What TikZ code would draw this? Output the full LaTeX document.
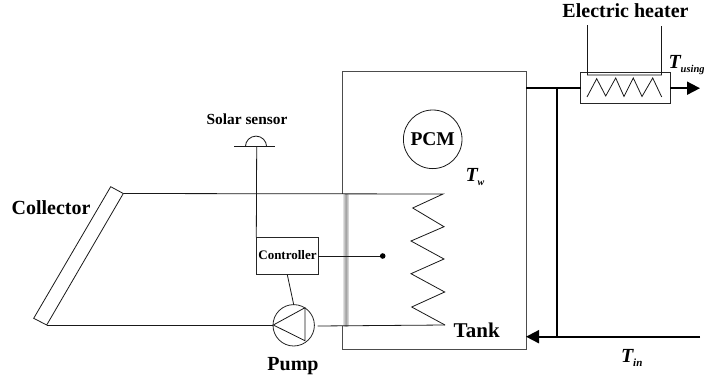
\documentclass[tikz,border=0pt]{standalone}
\usepackage{fontspec}
\setmainfont{Liberation Serif}
\usetikzlibrary{arrows.meta}
\tikzset{
  thin line/.style={draw=black!90,line width=0.8pt,line join=miter},
  thick pipe/.style={draw=black,line width=1.8pt},
  flow/.style={thick pipe,-{Triangle[length=13pt,width=13pt]}},
  box/.style={draw=black!85,line width=0.8pt,fill=white,inner sep=0pt,outer sep=0pt},
  lab/.style={inner sep=0pt,outer sep=0pt},
  big/.style={lab,font=\fontsize{20}{22}\selectfont\bfseries},
  sym/.style={lab,font=\fontsize{20}{22}\selectfont\bfseries\itshape},
}
\begin{document}
\begin{tikzpicture}[x=1pt,y=-1pt]
\useasboundingbox (0,0) rectangle (704,383);
% tank
\node[box,draw=black!70,fill=none,line width=0.9pt,minimum width=184pt,minimum height=278pt] (tank) at (434,210) {};
\fill[white] (340.5,194) rectangle (349,326);
\shade[left color=black!12,right color=black!12,middle color=black!38] (343,194) rectangle (348.5,326);
% collector
\coordinate (ca) at (110.7,186.7);
\coordinate (cb) at (123.3,193.5);
\coordinate (cc) at (46.7,325);
\coordinate (cd) at (33.7,318.3);
\draw[thin line] (ca) -- (cb) -- (cc) -- (cd) -- cycle;
% coil
\coordinate (c0) at (443,194);
\coordinate (c8) at (445,325);
\draw[thin line] (cb) -- (c0) -- (412.7,208) -- (444,226.7) -- (411,241) -- (444,259) -- (411,273.7) -- (444.7,292) -- (411.7,307) -- (c8);
% pump
\node[circle,box,minimum size=41.4pt] (pump) at (293.7,325.3) {};
\coordinate (pl) at (273.3,325);
\draw[thin line] (pl) -- (305,307.7) -- (305,340.7) -- cycle;
\draw[thin line] (cc) -- (pl);
\coordinate (pr) at (317.5,326);
\draw[thin line] (pr) -- (c8);
% controller
\node[box,minimum width=62pt,minimum height=37.4pt] (ctrl) at (287.3,256) {};
\node[lab,font=\fontsize{13}{14}\selectfont\bfseries] (ctrltext) at (287.5,254.7) {Controller};
\coordinate (dot) at (382.7,256);
\draw[thin line] (ctrl.east) -- (dot);
\fill (dot) circle (2.8pt);
\draw[thin line] (ctrl.south) -- (pump.north);
% sensor
\coordinate (s0) at (256.7,146.7);
\draw[thin line] (234.3,146.7) -- (274.7,146.7);
\draw[thin line] (245.4,146.7) arc[start angle=180,end angle=0,radius=10.6pt];
\draw[thin line] (s0) -- (ctrl.north west);
% PCM
\node[circle,draw=black!90,line width=0.8pt,minimum size=58.6pt,lab,font=\fontsize{19.5}{21}\selectfont\bfseries] (pcm) at (432.7,139.3) {PCM};
% heater
\node[box,minimum width=89.6pt,minimum height=31pt] (heater) at (625.5,88.2) {};
\coordinate (w1) at (587,25);
\coordinate (w2) at (661.7,26);
\coordinate (w1b) at (587,75);
\coordinate (w2b) at (661.7,75);
\draw[line width=2pt,draw=black!35] (w1b) -- (w2b);
\draw[thin line] (w1) -- (w1b);
\draw[thin line] (w2) -- (w2b);
\draw[thin line] (587,97) -- (596.7,78.7) -- (605.7,96) -- (615.7,78) -- (624,96.5) -- (633.3,78) -- (642,96.5) -- (652.7,78) -- (661.7,97);
% pipes
\coordinate (tout) at (tank.east |- heater.west);
\coordinate (tin) at (700,336.7);
\coordinate (tinhead) at (tank.east |- tin);
\coordinate (junc) at (556.7,88.2);
\coordinate (junc2) at (556.7,336.7);
\coordinate (hout) at (700,88.2);
\draw[thick pipe] (tout) -- (heater.west);
\draw[thick pipe] (junc) -- (junc2);
\draw[flow] (tin) -- (tinhead);
\draw[flow] (heater.east) -- (hout);
% labels
\node[big] (lcoll) at (51,207.7) {Collector};
\node[big] (lpump) at (293,366) {Pump};
\node[lab,font=\fontsize{15.4}{17}\selectfont\bfseries] (lsens) at (247,119) {Solar sensor};
\node[big,font=\fontsize{21}{23}\selectfont\bfseries] (ltank) at (476.7,330.7) {Tank};
\node[big] (lheat) at (625.5,10.5) {Electric heater};
\node[sym,anchor=west] (ltw) at (465.5,177) {T\raisebox{-4pt}{\fontsize{10}{11}\selectfont w}};
\node[sym,anchor=west] (ltin) at (621,358) {T\raisebox{-4pt}{\fontsize{11}{12}\selectfont in}};
\node[sym,anchor=west] (ltu) at (668.5,65) {T\raisebox{-4pt}{\fontsize{10.5}{11}\selectfont using}};
\end{tikzpicture}
\end{document}
